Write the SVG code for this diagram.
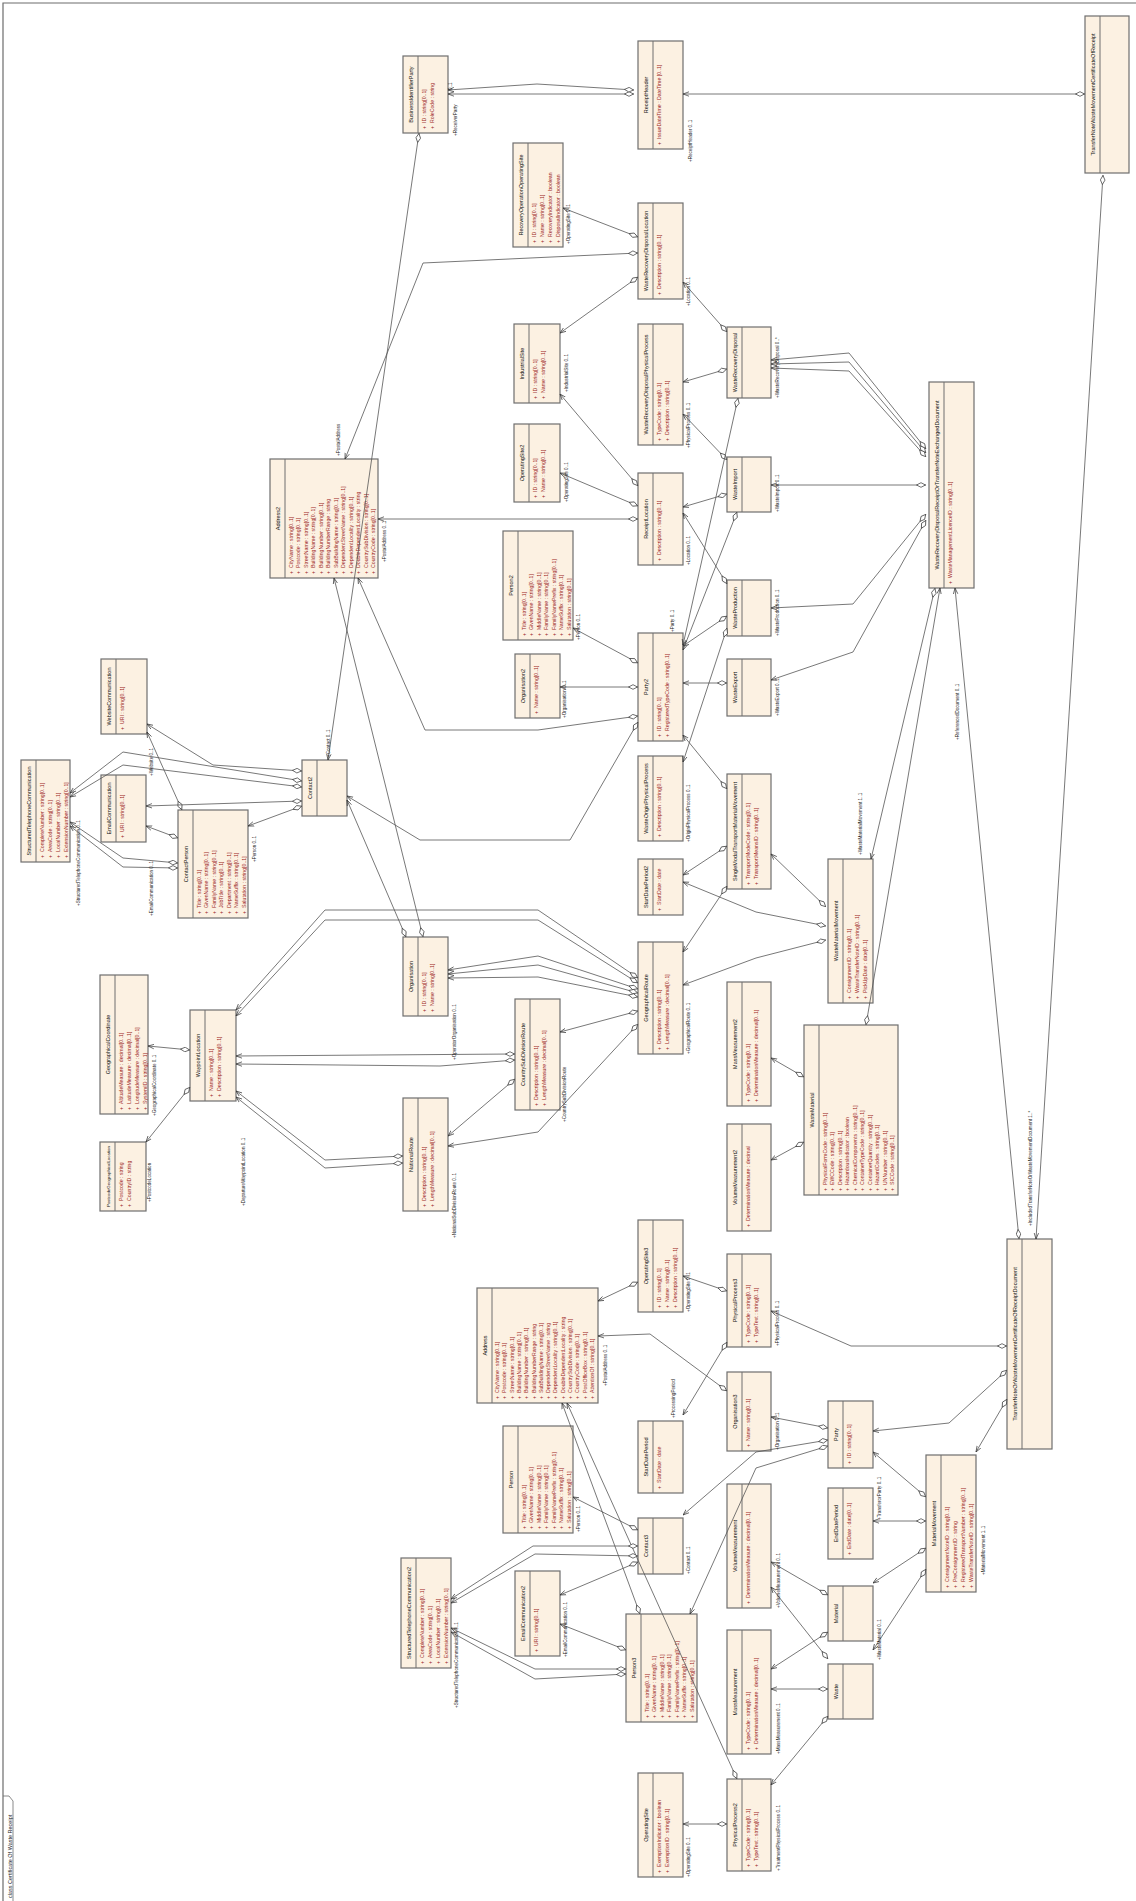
<svg xmlns="http://www.w3.org/2000/svg" width="1136" height="1901" viewBox="0 0 1136 1901">
<style>
.box{fill:#fcf1e2;stroke:#6e6e6e;stroke-width:1.2}
.sep{stroke:#6e6e6e;stroke-width:1}
.nm{font-family:"Liberation Sans",Arial,sans-serif;font-size:5.5px;fill:#111;text-anchor:middle}
.nms{font-family:"Liberation Sans",Arial,sans-serif;font-size:4.4px;fill:#111;text-anchor:middle}
.at{font-family:"Liberation Sans",Arial,sans-serif;font-size:5.2px;fill:#9b1c1c}
.lb{font-family:"Liberation Sans",Arial,sans-serif;font-size:4.6px;fill:#222}
.fr{font-family:"Liberation Sans",Arial,sans-serif;font-size:5.5px;fill:#222}
</style>
<defs>
<marker id="dia" markerUnits="userSpaceOnUse" markerWidth="10" markerHeight="6" viewBox="0 0 10 6" refX="0" refY="3" orient="auto"><path d="M0.5,3 L5,0.7 L9.5,3 L5,5.3 Z" fill="#fff" stroke="#333" stroke-width="0.7"/></marker>
<marker id="arr" markerUnits="userSpaceOnUse" markerWidth="6" markerHeight="6" viewBox="0 0 6 6" refX="6" refY="3" orient="auto"><path d="M0,0.8 L6,3 L0,5.2" fill="none" stroke="#333" stroke-width="0.7"/></marker>
</defs>
<rect width="1136" height="1901" fill="#fff"/>
<g id="frame">
<path d="M3,1901 V3 H1136" fill="none" stroke="#6d6d6d" stroke-width="1.2"/>
<path d="M3,1796 H9 L13,1801 V1901" fill="none" stroke="#6d6d6d" stroke-width="0.8"/>
<text class="fr" transform="translate(11.5,1898) rotate(-90)">class Certificate Of Waste Receipt</text>
</g>

<g id="nodes">
<g id="BusinessIdentifierParty" transform="translate(403,133) rotate(-90)"><rect class="box" width="77" height="45"/><line class="sep" x1="0" y1="15" x2="77" y2="15"/><text class="nm" x="38.5" y="10">BusinessIdentifierParty</text>
<text class="at" y="23"><tspan x="4">+</tspan><tspan x="10">ID : string[0..1]</tspan></text>
<text class="at" y="31"><tspan x="4">+</tspan><tspan x="10">RoleCode : string</tspan></text></g>

<g id="ReceiptHeader" transform="translate(638,149) rotate(-90)"><rect class="box" width="108" height="45"/><line class="sep" x1="0" y1="15" x2="108" y2="15"/><text class="nm" x="54" y="10">ReceiptHeader</text>
<text class="at" y="23"><tspan x="4">+</tspan><tspan x="10">IssueDateTime : DateTime [0..1]</tspan></text></g>

<g id="TransferNoteWasteMovementCertificateOfReceipt" transform="translate(1085,173) rotate(-90)"><rect class="box" width="157" height="44"/><line class="sep" x1="0" y1="15" x2="157" y2="15"/><text class="nm" x="78.5" y="10">TransferNoteWasteMovementCertificateOfReceipt</text></g>

<g id="RecoveryOperationOperatingSite" transform="translate(513,247) rotate(-90)"><rect class="box" width="104" height="50"/><line class="sep" x1="0" y1="15" x2="104" y2="15"/><text class="nm" x="52" y="10">RecoveryOperationOperatingSite</text>
<text class="at" y="23"><tspan x="4">+</tspan><tspan x="10">ID : string[0..1]</tspan></text>
<text class="at" y="31"><tspan x="4">+</tspan><tspan x="10">Name : string[0..1]</tspan></text>
<text class="at" y="39"><tspan x="4">+</tspan><tspan x="10">RecoveryIndicator : boolean</tspan></text>
<text class="at" y="47"><tspan x="4">+</tspan><tspan x="10">DisposalIndicator : boolean</tspan></text></g>

<g id="WasteRecoveryDisposalLocation" transform="translate(638,299) rotate(-90)"><rect class="box" width="96" height="45"/><line class="sep" x1="0" y1="15" x2="96" y2="15"/><text class="nm" x="48" y="10">WasteRecoveryDisposalLocation</text>
<text class="at" y="23"><tspan x="4">+</tspan><tspan x="10">Description : string[0..1]</tspan></text></g>

<g id="IndustrialSite" transform="translate(514,403) rotate(-90)"><rect class="box" width="79" height="46"/><line class="sep" x1="0" y1="15" x2="79" y2="15"/><text class="nm" x="39.5" y="10">IndustrialSite</text>
<text class="at" y="23"><tspan x="4">+</tspan><tspan x="10">ID : string[0..1]</tspan></text>
<text class="at" y="31"><tspan x="4">+</tspan><tspan x="10">Name : string[0..1]</tspan></text></g>

<g id="WasteRecoveryDisposalPhysicalProcess" transform="translate(638,445) rotate(-90)"><rect class="box" width="121" height="45"/><line class="sep" x1="0" y1="15" x2="121" y2="15"/><text class="nm" x="60.5" y="10">WasteRecoveryDisposalPhysicalProcess</text>
<text class="at" y="23"><tspan x="4">+</tspan><tspan x="10">TypeCode : string[0..1]</tspan></text>
<text class="at" y="31"><tspan x="4">+</tspan><tspan x="10">Description : string[0..1]</tspan></text></g>

<g id="WasteRecoveryDisposal" transform="translate(727,398) rotate(-90)"><rect class="box" width="71" height="44"/><line class="sep" x1="0" y1="15" x2="71" y2="15"/><text class="nm" x="35.5" y="10">WasteRecoveryDisposal</text></g>

<g id="OperatingSite2" transform="translate(514,502) rotate(-90)"><rect class="box" width="78" height="46"/><line class="sep" x1="0" y1="15" x2="78" y2="15"/><text class="nm" x="39" y="10">OperatingSite2</text>
<text class="at" y="23"><tspan x="4">+</tspan><tspan x="10">ID : string[0..1]</tspan></text>
<text class="at" y="31"><tspan x="4">+</tspan><tspan x="10">Name : string[0..1]</tspan></text></g>

<g id="ReceiptLocation" transform="translate(638,565) rotate(-90)"><rect class="box" width="92" height="45"/><line class="sep" x1="0" y1="15" x2="92" y2="15"/><text class="nm" x="46" y="10">ReceiptLocation</text>
<text class="at" y="23"><tspan x="4">+</tspan><tspan x="10">Description : string[0..1]</tspan></text></g>

<g id="WasteImport" transform="translate(727,512) rotate(-90)"><rect class="box" width="55" height="44"/><line class="sep" x1="0" y1="15" x2="55" y2="15"/><text class="nm" x="27.5" y="10">WasteImport</text></g>

<g id="Address2" transform="translate(270,578) rotate(-90)"><rect class="box" width="119" height="108"/><line class="sep" x1="0" y1="15" x2="119" y2="15"/><text class="nm" x="59.5" y="10">Address2</text>
<text class="at" y="22.5"><tspan x="4">+</tspan><tspan x="10">CityName : string[0..1]</tspan></text>
<text class="at" y="30"><tspan x="4">+</tspan><tspan x="10">Postcode : string[0..1]</tspan></text>
<text class="at" y="37.5"><tspan x="4">+</tspan><tspan x="10">StreetName : string[0..1]</tspan></text>
<text class="at" y="45"><tspan x="4">+</tspan><tspan x="10">BuildingName : string[0..1]</tspan></text>
<text class="at" y="52.5"><tspan x="4">+</tspan><tspan x="10">BuildingNumber : string[0..1]</tspan></text>
<text class="at" y="60"><tspan x="4">+</tspan><tspan x="10">BuildingNumberRange : string</tspan></text>
<text class="at" y="67.5"><tspan x="4">+</tspan><tspan x="10">SubBuildingName : string[0..1]</tspan></text>
<text class="at" y="75"><tspan x="4">+</tspan><tspan x="10">DependentStreetName : string[0..1]</tspan></text>
<text class="at" y="82.5"><tspan x="4">+</tspan><tspan x="10">DependentLocality : string[0..1]</tspan></text>
<text class="at" y="90"><tspan x="4">+</tspan><tspan x="10">DoubleDependentLocality : string</tspan></text>
<text class="at" y="97.5"><tspan x="4">+</tspan><tspan x="10">CountrySubDivision : string[0..1]</tspan></text>
<text class="at" y="105"><tspan x="4">+</tspan><tspan x="10">CountryCode : string[0..1]</tspan></text></g>

<g id="Person2" transform="translate(503,640) rotate(-90)"><rect class="box" width="109" height="70"/><line class="sep" x1="0" y1="15" x2="109" y2="15"/><text class="nm" x="54.5" y="10">Person2</text>
<text class="at" y="22.5"><tspan x="4">+</tspan><tspan x="10">Title : string[0..1]</tspan></text>
<text class="at" y="30"><tspan x="4">+</tspan><tspan x="10">GivenName : string[0..1]</tspan></text>
<text class="at" y="37.5"><tspan x="4">+</tspan><tspan x="10">MiddleName : string[0..1]</tspan></text>
<text class="at" y="45"><tspan x="4">+</tspan><tspan x="10">FamilyName : string[0..1]</tspan></text>
<text class="at" y="52.5"><tspan x="4">+</tspan><tspan x="10">FamilyNamePrefix : string[0..1]</tspan></text>
<text class="at" y="60"><tspan x="4">+</tspan><tspan x="10">NameSuffix : string[0..1]</tspan></text>
<text class="at" y="67.5"><tspan x="4">+</tspan><tspan x="10">Salutation : string[0..1]</tspan></text></g>

<g id="WasteProduction" transform="translate(727,636) rotate(-90)"><rect class="box" width="56" height="44"/><line class="sep" x1="0" y1="15" x2="56" y2="15"/><text class="nm" x="28" y="10">WasteProduction</text></g>

<g id="Organisation2" transform="translate(515,718) rotate(-90)"><rect class="box" width="64" height="45"/><line class="sep" x1="0" y1="15" x2="64" y2="15"/><text class="nm" x="32" y="10">Organisation2</text>
<text class="at" y="23"><tspan x="4">+</tspan><tspan x="10">Name : string[0..1]</tspan></text></g>

<g id="Party2" transform="translate(638,741) rotate(-90)"><rect class="box" width="108" height="45"/><line class="sep" x1="0" y1="15" x2="108" y2="15"/><text class="nm" x="54" y="10">Party2</text>
<text class="at" y="23"><tspan x="4">+</tspan><tspan x="10">ID : string[0..1]</tspan></text>
<text class="at" y="31"><tspan x="4">+</tspan><tspan x="10">RegisteredTypeCode : string[0..1]</tspan></text></g>

<g id="WasteExport" transform="translate(727,716) rotate(-90)"><rect class="box" width="57" height="44"/><line class="sep" x1="0" y1="15" x2="57" y2="15"/><text class="nm" x="28.5" y="10">WasteExport</text></g>

<g id="WasteOriginPhysicalProcess" transform="translate(638,841) rotate(-90)"><rect class="box" width="85" height="45"/><line class="sep" x1="0" y1="15" x2="85" y2="15"/><text class="nm" x="42.5" y="10">WasteOriginPhysicalProcess</text>
<text class="at" y="23"><tspan x="4">+</tspan><tspan x="10">Description : string[0..1]</tspan></text></g>

<g id="SingleModalTransportMaterialMovement" transform="translate(727,889) rotate(-90)"><rect class="box" width="115" height="44"/><line class="sep" x1="0" y1="15" x2="115" y2="15"/><text class="nm" x="57.5" y="10">SingleModalTransportMaterialMovement</text>
<text class="at" y="23"><tspan x="4">+</tspan><tspan x="10">TransportModeCode : string[0..1]</tspan></text>
<text class="at" y="31"><tspan x="4">+</tspan><tspan x="10">TransportMeansID : string[0..1]</tspan></text></g>

<g id="StartDatePeriod2" transform="translate(638,915) rotate(-90)"><rect class="box" width="56" height="45"/><line class="sep" x1="0" y1="15" x2="56" y2="15"/><text class="nm" x="28" y="10">StartDatePeriod2</text>
<text class="at" y="23"><tspan x="4">+</tspan><tspan x="10">StartDate : date</tspan></text></g>

<g id="WasteMaterialMovement" transform="translate(828,1003) rotate(-90)"><rect class="box" width="144" height="45"/><line class="sep" x1="0" y1="15" x2="144" y2="15"/><text class="nm" x="72" y="10">WasteMaterialMovement</text>
<text class="at" y="23"><tspan x="4">+</tspan><tspan x="10">ConsignmentID : string[0..1]</tspan></text>
<text class="at" y="31"><tspan x="4">+</tspan><tspan x="10">WasteTransferNoteID : string[0..1]</tspan></text>
<text class="at" y="39"><tspan x="4">+</tspan><tspan x="10">PickUpDate : date[0..1]</tspan></text></g>

<g id="WasteMaterial" transform="translate(804,1195) rotate(-90)"><rect class="box" width="170" height="94"/><line class="sep" x1="0" y1="15" x2="170" y2="15"/><text class="nm" x="85" y="10">WasteMaterial</text>
<text class="at" y="22.5"><tspan x="4">+</tspan><tspan x="10">PhysicalFormCode : string[0..1]</tspan></text>
<text class="at" y="30"><tspan x="4">+</tspan><tspan x="10">EWCCode : string[0..1]</tspan></text>
<text class="at" y="37.5"><tspan x="4">+</tspan><tspan x="10">Description : string[0..1]</tspan></text>
<text class="at" y="45"><tspan x="4">+</tspan><tspan x="10">HazardousIndicator : boolean</tspan></text>
<text class="at" y="52.5"><tspan x="4">+</tspan><tspan x="10">ChemicalComponents : string[0..1]</tspan></text>
<text class="at" y="60"><tspan x="4">+</tspan><tspan x="10">ContainerTypeCode : string[0..1]</tspan></text>
<text class="at" y="67.5"><tspan x="4">+</tspan><tspan x="10">ContainerQuantity : string[0..1]</tspan></text>
<text class="at" y="75"><tspan x="4">+</tspan><tspan x="10">HazardCodes : string[0..1]</tspan></text>
<text class="at" y="82.5"><tspan x="4">+</tspan><tspan x="10">UNNumber : string[0..1]</tspan></text>
<text class="at" y="90"><tspan x="4">+</tspan><tspan x="10">SICCode : string[0..1]</tspan></text></g>

<g id="Contact2" transform="translate(302,816) rotate(-90)"><rect class="box" width="56" height="45"/><line class="sep" x1="0" y1="15" x2="56" y2="15"/><text class="nm" x="28" y="10">Contact2</text></g>

<g id="StructuredTelephoneCommunication" transform="translate(21,862) rotate(-90)"><rect class="box" width="102" height="49"/><line class="sep" x1="0" y1="15" x2="102" y2="15"/><text class="nm" x="51" y="10">StructuredTelephoneCommunication</text>
<text class="at" y="23"><tspan x="4">+</tspan><tspan x="10">CompleteNumber : string[0..1]</tspan></text>
<text class="at" y="31"><tspan x="4">+</tspan><tspan x="10">AreaCode : string[0..1]</tspan></text>
<text class="at" y="39"><tspan x="4">+</tspan><tspan x="10">LocalNumber : string[0..1]</tspan></text>
<text class="at" y="47"><tspan x="4">+</tspan><tspan x="10">ExtensionNumber : string[0..1]</tspan></text></g>

<g id="WebsiteCommunication" transform="translate(101,734) rotate(-90)"><rect class="box" width="75" height="46"/><line class="sep" x1="0" y1="15" x2="75" y2="15"/><text class="nm" x="37.5" y="10">WebsiteCommunication</text>
<text class="at" y="23"><tspan x="4">+</tspan><tspan x="10">URI : string[0..1]</tspan></text></g>

<g id="EmailCommunication" transform="translate(101,842) rotate(-90)"><rect class="box" width="67" height="45"/><line class="sep" x1="0" y1="15" x2="67" y2="15"/><text class="nm" x="33.5" y="10">EmailCommunication</text>
<text class="at" y="23"><tspan x="4">+</tspan><tspan x="10">URI : string[0..1]</tspan></text></g>

<g id="ContactPerson" transform="translate(178,918) rotate(-90)"><rect class="box" width="108" height="70"/><line class="sep" x1="0" y1="15" x2="108" y2="15"/><text class="nm" x="54" y="10">ContactPerson</text>
<text class="at" y="22.5"><tspan x="4">+</tspan><tspan x="10">Title : string[0..1]</tspan></text>
<text class="at" y="30"><tspan x="4">+</tspan><tspan x="10">GivenName : string[0..1]</tspan></text>
<text class="at" y="37.5"><tspan x="4">+</tspan><tspan x="10">FamilyName : string[0..1]</tspan></text>
<text class="at" y="45"><tspan x="4">+</tspan><tspan x="10">JobTitle : string[0..1]</tspan></text>
<text class="at" y="52.5"><tspan x="4">+</tspan><tspan x="10">Department : string[0..1]</tspan></text>
<text class="at" y="60"><tspan x="4">+</tspan><tspan x="10">NameSuffix : string[0..1]</tspan></text>
<text class="at" y="67.5"><tspan x="4">+</tspan><tspan x="10">Salutation : string[0..1]</tspan></text></g>

<g id="Organisation" transform="translate(403,1016) rotate(-90)"><rect class="box" width="79" height="45"/><line class="sep" x1="0" y1="15" x2="79" y2="15"/><text class="nm" x="39.5" y="10">Organisation</text>
<text class="at" y="23"><tspan x="4">+</tspan><tspan x="10">ID : string[0..1]</tspan></text>
<text class="at" y="31"><tspan x="4">+</tspan><tspan x="10">Name : string[0..1]</tspan></text></g>

<g id="GeographicalRoute" transform="translate(638,1054) rotate(-90)"><rect class="box" width="112" height="45"/><line class="sep" x1="0" y1="15" x2="112" y2="15"/><text class="nm" x="56" y="10">GeographicalRoute</text>
<text class="at" y="23"><tspan x="4">+</tspan><tspan x="10">Description : string[0..1]</tspan></text>
<text class="at" y="31"><tspan x="4">+</tspan><tspan x="10">LengthMeasure : decimal[0..1]</tspan></text></g>

<g id="CountrySubDivisionRoute" transform="translate(515,1110) rotate(-90)"><rect class="box" width="111" height="45"/><line class="sep" x1="0" y1="15" x2="111" y2="15"/><text class="nm" x="55.5" y="10">CountrySubDivisionRoute</text>
<text class="at" y="23"><tspan x="4">+</tspan><tspan x="10">Description : string[0..1]</tspan></text>
<text class="at" y="31"><tspan x="4">+</tspan><tspan x="10">LengthMeasure : decimal[0..1]</tspan></text></g>

<g id="MassMeasurement2" transform="translate(727,1106) rotate(-90)"><rect class="box" width="124" height="44"/><line class="sep" x1="0" y1="15" x2="124" y2="15"/><text class="nm" x="62" y="10">MassMeasurement2</text>
<text class="at" y="23"><tspan x="4">+</tspan><tspan x="10">TypeCode : string[0..1]</tspan></text>
<text class="at" y="31"><tspan x="4">+</tspan><tspan x="10">DeterminationMeasure : decimal[0..1]</tspan></text></g>

<g id="NationalRoute" transform="translate(403,1211) rotate(-90)"><rect class="box" width="113" height="45"/><line class="sep" x1="0" y1="15" x2="113" y2="15"/><text class="nm" x="56.5" y="10">NationalRoute</text>
<text class="at" y="23"><tspan x="4">+</tspan><tspan x="10">Description : string[0..1]</tspan></text>
<text class="at" y="31"><tspan x="4">+</tspan><tspan x="10">LengthMeasure : decimal[0..1]</tspan></text></g>

<g id="VolumeMeasurement2" transform="translate(727,1231) rotate(-90)"><rect class="box" width="107" height="44"/><line class="sep" x1="0" y1="15" x2="107" y2="15"/><text class="nm" x="53.5" y="10">VolumeMeasurement2</text>
<text class="at" y="23"><tspan x="4">+</tspan><tspan x="10">DeterminationMeasure : decimal</tspan></text></g>

<g id="GeographicalCoordinate" transform="translate(100,1114) rotate(-90)"><rect class="box" width="139" height="48"/><line class="sep" x1="0" y1="15" x2="139" y2="15"/><text class="nm" x="69.5" y="10">GeographicalCoordinate</text>
<text class="at" y="23"><tspan x="4">+</tspan><tspan x="10">AltitudeMeasure : decimal[0..1]</tspan></text>
<text class="at" y="31"><tspan x="4">+</tspan><tspan x="10">LatitudeMeasure : decimal[0..1]</tspan></text>
<text class="at" y="39"><tspan x="4">+</tspan><tspan x="10">LongitudeMeasure : decimal[0..1]</tspan></text>
<text class="at" y="47"><tspan x="4">+</tspan><tspan x="10">SystemID : string[0..1]</tspan></text></g>

<g id="WaypointLocation" transform="translate(190,1101) rotate(-90)"><rect class="box" width="91" height="46"/><line class="sep" x1="0" y1="15" x2="91" y2="15"/><text class="nm" x="45.5" y="10">WaypointLocation</text>
<text class="at" y="23"><tspan x="4">+</tspan><tspan x="10">Name : string[0..1]</tspan></text>
<text class="at" y="31"><tspan x="4">+</tspan><tspan x="10">Description : string[0..1]</tspan></text></g>

<g id="PostcodeGeographicalLocation" transform="translate(100,1211) rotate(-90)"><rect class="box" width="69" height="46"/><line class="sep" x1="0" y1="15" x2="69" y2="15"/><text class="nms" x="34.5" y="9.5">PostcodeGeographicalLocation</text>
<text class="at" y="23"><tspan x="4">+</tspan><tspan x="10">Postcode : string</tspan></text>
<text class="at" y="31"><tspan x="4">+</tspan><tspan x="10">CountryID : string</tspan></text></g>

<g id="OperatingSite3" transform="translate(638,1312) rotate(-90)"><rect class="box" width="92" height="45"/><line class="sep" x1="0" y1="15" x2="92" y2="15"/><text class="nm" x="46" y="10">OperatingSite3</text>
<text class="at" y="23"><tspan x="4">+</tspan><tspan x="10">ID : string[0..1]</tspan></text>
<text class="at" y="31"><tspan x="4">+</tspan><tspan x="10">Name : string[0..1]</tspan></text>
<text class="at" y="39"><tspan x="4">+</tspan><tspan x="10">Description : string[0..1]</tspan></text></g>

<g id="PhysicalProcess3" transform="translate(727,1347) rotate(-90)"><rect class="box" width="93" height="44"/><line class="sep" x1="0" y1="15" x2="93" y2="15"/><text class="nm" x="46.5" y="10">PhysicalProcess3</text>
<text class="at" y="23"><tspan x="4">+</tspan><tspan x="10">TypeCode : string[0..1]</tspan></text>
<text class="at" y="31"><tspan x="4">+</tspan><tspan x="10">TypeText : string[0..1]</tspan></text></g>

<g id="Address" transform="translate(477,1403) rotate(-90)"><rect class="box" width="115" height="121"/><line class="sep" x1="0" y1="15" x2="115" y2="15"/><text class="nm" x="57.5" y="10">Address</text>
<text class="at" y="22"><tspan x="4">+</tspan><tspan x="10">CityName : string[0..1]</tspan></text>
<text class="at" y="29.3"><tspan x="4">+</tspan><tspan x="10">Postcode : string[0..1]</tspan></text>
<text class="at" y="36.6"><tspan x="4">+</tspan><tspan x="10">StreetName : string[0..1]</tspan></text>
<text class="at" y="43.9"><tspan x="4">+</tspan><tspan x="10">BuildingName : string[0..1]</tspan></text>
<text class="at" y="51.2"><tspan x="4">+</tspan><tspan x="10">BuildingNumber : string[0..1]</tspan></text>
<text class="at" y="58.5"><tspan x="4">+</tspan><tspan x="10">BuildingNumberRange : string</tspan></text>
<text class="at" y="65.8"><tspan x="4">+</tspan><tspan x="10">SubBuildingName : string[0..1]</tspan></text>
<text class="at" y="73.1"><tspan x="4">+</tspan><tspan x="10">DependentStreetName : string</tspan></text>
<text class="at" y="80.4"><tspan x="4">+</tspan><tspan x="10">DependentLocality : string[0..1]</tspan></text>
<text class="at" y="87.7"><tspan x="4">+</tspan><tspan x="10">DoubleDependentLocality : string</tspan></text>
<text class="at" y="95"><tspan x="4">+</tspan><tspan x="10">CountrySubDivision : string[0..1]</tspan></text>
<text class="at" y="102.3"><tspan x="4">+</tspan><tspan x="10">CountryCode : string[0..1]</tspan></text>
<text class="at" y="109.6"><tspan x="4">+</tspan><tspan x="10">PostOfficeBox : string[0..1]</tspan></text>
<text class="at" y="116.9"><tspan x="4">+</tspan><tspan x="10">AttentionOf : string[0..1]</tspan></text></g>

<g id="Organisation3" transform="translate(727,1451) rotate(-90)"><rect class="box" width="79" height="44"/><line class="sep" x1="0" y1="15" x2="79" y2="15"/><text class="nm" x="39.5" y="10">Organisation3</text>
<text class="at" y="23"><tspan x="4">+</tspan><tspan x="10">Name : string[0..1]</tspan></text></g>

<g id="Person" transform="translate(503,1533) rotate(-90)"><rect class="box" width="107" height="70"/><line class="sep" x1="0" y1="15" x2="107" y2="15"/><text class="nm" x="53.5" y="10">Person</text>
<text class="at" y="22.5"><tspan x="4">+</tspan><tspan x="10">Title : string[0..1]</tspan></text>
<text class="at" y="30"><tspan x="4">+</tspan><tspan x="10">GivenName : string[0..1]</tspan></text>
<text class="at" y="37.5"><tspan x="4">+</tspan><tspan x="10">MiddleName : string[0..1]</tspan></text>
<text class="at" y="45"><tspan x="4">+</tspan><tspan x="10">FamilyName : string[0..1]</tspan></text>
<text class="at" y="52.5"><tspan x="4">+</tspan><tspan x="10">FamilyNamePrefix : string[0..1]</tspan></text>
<text class="at" y="60"><tspan x="4">+</tspan><tspan x="10">NameSuffix : string[0..1]</tspan></text>
<text class="at" y="67.5"><tspan x="4">+</tspan><tspan x="10">Salutation : string[0..1]</tspan></text></g>

<g id="StartDatePeriod" transform="translate(638,1493) rotate(-90)"><rect class="box" width="72" height="45"/><line class="sep" x1="0" y1="15" x2="72" y2="15"/><text class="nm" x="36" y="10">StartDatePeriod</text>
<text class="at" y="23"><tspan x="4">+</tspan><tspan x="10">StartDate : date</tspan></text></g>

<g id="Party" transform="translate(828,1468) rotate(-90)"><rect class="box" width="67" height="45"/><line class="sep" x1="0" y1="15" x2="67" y2="15"/><text class="nm" x="33.5" y="10">Party</text>
<text class="at" y="23"><tspan x="4">+</tspan><tspan x="10">ID : string[0..1]</tspan></text></g>

<g id="VolumeMeasurement" transform="translate(727,1608) rotate(-90)"><rect class="box" width="124" height="44"/><line class="sep" x1="0" y1="15" x2="124" y2="15"/><text class="nm" x="62" y="10">VolumeMeasurement</text>
<text class="at" y="23"><tspan x="4">+</tspan><tspan x="10">DeterminationMeasure : decimal[0..1]</tspan></text></g>

<g id="EndDatePeriod" transform="translate(828,1559) rotate(-90)"><rect class="box" width="71" height="45"/><line class="sep" x1="0" y1="15" x2="71" y2="15"/><text class="nm" x="35.5" y="10">EndDatePeriod</text>
<text class="at" y="23"><tspan x="4">+</tspan><tspan x="10">EndDate : date[0..1]</tspan></text></g>

<g id="MaterialMovement" transform="translate(926,1592) rotate(-90)"><rect class="box" width="137" height="50"/><line class="sep" x1="0" y1="15" x2="137" y2="15"/><text class="nm" x="68.5" y="10">MaterialMovement</text>
<text class="at" y="23"><tspan x="4">+</tspan><tspan x="10">ConsignmentNoteID : string[0..1]</tspan></text>
<text class="at" y="31"><tspan x="4">+</tspan><tspan x="10">PreConsignmentID : string</tspan></text>
<text class="at" y="39"><tspan x="4">+</tspan><tspan x="10">RegisteredTransportNumber : string[0..1]</tspan></text>
<text class="at" y="47"><tspan x="4">+</tspan><tspan x="10">WasteTransferNoteID : string[0..1]</tspan></text></g>

<g id="Contact3" transform="translate(638,1574) rotate(-90)"><rect class="box" width="56" height="45"/><line class="sep" x1="0" y1="15" x2="56" y2="15"/><text class="nm" x="28" y="10">Contact3</text></g>

<g id="StructuredTelephoneCommunication2" transform="translate(401,1668) rotate(-90)"><rect class="box" width="110" height="50"/><line class="sep" x1="0" y1="15" x2="110" y2="15"/><text class="nm" x="55" y="10">StructuredTelephoneCommunication2</text>
<text class="at" y="23"><tspan x="4">+</tspan><tspan x="10">CompleteNumber : string[0..1]</tspan></text>
<text class="at" y="31"><tspan x="4">+</tspan><tspan x="10">AreaCode : string[0..1]</tspan></text>
<text class="at" y="39"><tspan x="4">+</tspan><tspan x="10">LocalNumber : string[0..1]</tspan></text>
<text class="at" y="47"><tspan x="4">+</tspan><tspan x="10">ExtensionNumber : string[0..1]</tspan></text></g>

<g id="EmailCommunication2" transform="translate(515,1656) rotate(-90)"><rect class="box" width="85" height="45"/><line class="sep" x1="0" y1="15" x2="85" y2="15"/><text class="nm" x="42.5" y="10">EmailCommunication2</text>
<text class="at" y="23"><tspan x="4">+</tspan><tspan x="10">URI : string[0..1]</tspan></text></g>

<g id="Material" transform="translate(828,1641) rotate(-90)"><rect class="box" width="55" height="45"/><line class="sep" x1="0" y1="15" x2="55" y2="15"/><text class="nm" x="27.5" y="10">Material</text></g>

<g id="Person3" transform="translate(626,1722) rotate(-90)"><rect class="box" width="108" height="71"/><line class="sep" x1="0" y1="15" x2="108" y2="15"/><text class="nm" x="54" y="10">Person3</text>
<text class="at" y="22.5"><tspan x="4">+</tspan><tspan x="10">Title : string[0..1]</tspan></text>
<text class="at" y="30"><tspan x="4">+</tspan><tspan x="10">GivenName : string[0..1]</tspan></text>
<text class="at" y="37.5"><tspan x="4">+</tspan><tspan x="10">MiddleName : string[0..1]</tspan></text>
<text class="at" y="45"><tspan x="4">+</tspan><tspan x="10">FamilyName : string[0..1]</tspan></text>
<text class="at" y="52.5"><tspan x="4">+</tspan><tspan x="10">FamilyNamePrefix : string[0..1]</tspan></text>
<text class="at" y="60"><tspan x="4">+</tspan><tspan x="10">NameSuffix : string[0..1]</tspan></text>
<text class="at" y="67.5"><tspan x="4">+</tspan><tspan x="10">Salutation : string[0..1]</tspan></text></g>

<g id="MassMeasurement" transform="translate(727,1754) rotate(-90)"><rect class="box" width="124" height="44"/><line class="sep" x1="0" y1="15" x2="124" y2="15"/><text class="nm" x="62" y="10">MassMeasurement</text>
<text class="at" y="23"><tspan x="4">+</tspan><tspan x="10">TypeCode : string[0..1]</tspan></text>
<text class="at" y="31"><tspan x="4">+</tspan><tspan x="10">DeterminationMeasure : decimal[0..1]</tspan></text></g>

<g id="Waste" transform="translate(828,1719) rotate(-90)"><rect class="box" width="55" height="45"/><line class="sep" x1="0" y1="15" x2="55" y2="15"/><text class="nm" x="27.5" y="10">Waste</text></g>

<g id="OperatingSite" transform="translate(638,1877) rotate(-90)"><rect class="box" width="104" height="45"/><line class="sep" x1="0" y1="15" x2="104" y2="15"/><text class="nm" x="52" y="10">OperatingSite</text>
<text class="at" y="23"><tspan x="4">+</tspan><tspan x="10">ExemptionIndicator : boolean</tspan></text>
<text class="at" y="31"><tspan x="4">+</tspan><tspan x="10">ExemptionID : string[0..1]</tspan></text></g>

<g id="PhysicalProcess2" transform="translate(727,1871) rotate(-90)"><rect class="box" width="92" height="44"/><line class="sep" x1="0" y1="15" x2="92" y2="15"/><text class="nm" x="46" y="10">PhysicalProcess2</text>
<text class="at" y="23"><tspan x="4">+</tspan><tspan x="10">TypeCode : string[0..1]</tspan></text>
<text class="at" y="31"><tspan x="4">+</tspan><tspan x="10">TypeText : string[0..1]</tspan></text></g>

<g id="WasteRecoveryDisposalReceiptDocument" transform="translate(929,588) rotate(-90)"><rect class="box" width="206" height="45"/><line class="sep" x1="0" y1="15" x2="206" y2="15"/><text class="nm" x="103" y="10">WasteRecoveryDisposalReceiptOrTransferNoteExchangedDocument</text>
<text class="at" y="23"><tspan x="4">+</tspan><tspan x="10">WasteManagementLicenceID : string[0..1]</tspan></text></g>

<g id="TransferNoteOrWasteMovementCertificateOfReceiptDocument" transform="translate(1007,1449) rotate(-90)"><rect class="box" width="210" height="45"/><line class="sep" x1="0" y1="15" x2="210" y2="15"/><text class="nm" x="105" y="10">TransferNoteOrWasteMovementCertificateOfReceiptDocument</text></g>
</g>

<g id="connectors" fill="none" stroke="#555" stroke-width="0.8" marker-start="url(#dia)" marker-end="url(#arr)">
<path d="M634,94 L448,94"/>
<path d="M634,90 L537,84 L448,90"/>
<path d="M1085,94 L683,94"/>
<path d="M638,237 L563,208"/>
<path d="M638,253 L423,263 L345,459"/>
<path d="M638,277 L560,333"/>
<path d="M727,332 L683,282"/>
<path d="M727,369 L683,382"/>
<path d="M638,486 L560,394"/>
<path d="M638,506 L560,473"/>
<path d="M638,519 L378,519"/>
<path d="M727,494 L683,507"/>
<path d="M727,460 L683,414"/>
<path d="M727,584 L683,513"/>
<path d="M738,398 L683,645"/>
<path d="M737,512 L683,650"/>
<path d="M926,449 L849,353 L771,360"/>
<path d="M926,453 L849,362 L771,364"/>
<path d="M926,457 L849,371 L771,368"/>
<path d="M926,485 L771,485"/>
<path d="M926,514 L853,604 L771,608"/>
<path d="M926,520 L853,652 L771,680"/>
<path d="M1103,175 L1036,1239"/>
<path d="M1019,1239 L955,588"/>
<path d="M935,588 L871,859"/>
<path d="M866,1025 L940,588"/>
<path d="M826,907 L771,854"/>
<path d="M826,926 L756,912 L683,882"/>
<path d="M826,940 L756,958 L683,985"/>
<path d="M804,1077 L771,1058"/>
<path d="M804,1142 L771,1160"/>
<path d="M727,789 L683,735"/>
<path d="M727,628 L683,762"/>
<path d="M727,616 L683,646"/>
<path d="M727,683 L683,683"/>
<path d="M727,846 L683,875"/>
<path d="M727,886 L683,952"/>
<path d="M638,663 L573,628"/>
<path d="M638,687 L560,687"/>
<path d="M638,716 L538,730 L425,730 L358,578"/>
<path d="M638,722 L570,840 L420,840 L347,796"/>
<path d="M419,133 L328,760"/>
<path d="M423,937 L334,578"/>
<path d="M406,937 L347,800"/>
<path d="M638,989 L538,956 L448,970"/>
<path d="M638,993 L538,965 L448,974"/>
<path d="M638,997 L538,977 L448,978"/>
<path d="M638,978 L538,910 L325,910 L236,1010"/>
<path d="M638,983 L538,920 L325,920 L236,1016"/>
<path d="M638,1011 L560,1032"/>
<path d="M638,1024 L538,1132 L448,1146"/>
<path d="M515,1054 L236,1056"/>
<path d="M515,1060 L440,1066 L236,1064"/>
<path d="M515,1079 L448,1136"/>
<path d="M403,1156 L325,1160 L236,1091"/>
<path d="M403,1163 L325,1168 L236,1097"/>
<path d="M190,1050 L148,1046"/>
<path d="M190,1087 L146,1142"/>
<path d="M302,771 L213,765 L147,724"/>
<path d="M182,810 L147,732"/>
<path d="M302,781 L123,752 L70,793"/>
<path d="M302,787 L123,765 L70,797"/>
<path d="M302,801 L146,806"/>
<path d="M302,806 L248,826"/>
<path d="M178,838 L146,826"/>
<path d="M178,863 L123,858 L70,822"/>
<path d="M178,868 L123,867 L70,826"/>
<path d="M638,1282 L598,1301"/>
<path d="M727,1391 L650,1334 L598,1336"/>
<path d="M640,1614 L562,1403"/>
<path d="M737,1779 L567,1403"/>
<path d="M638,1530 L573,1497"/>
<path d="M638,1546 L533,1546 L451,1599"/>
<path d="M638,1556 L535,1554 L451,1603"/>
<path d="M626,1669 L535,1669 L451,1628"/>
<path d="M626,1674 L535,1679 L451,1632"/>
<path d="M638,1562 L560,1595"/>
<path d="M626,1650 L560,1624"/>
<path d="M727,1342 L683,1415"/>
<path d="M727,1291 L683,1276"/>
<path d="M1007,1346 L851,1346 L771,1311"/>
<path d="M828,1428 L771,1417"/>
<path d="M828,1440 L756,1452 L683,1515"/>
<path d="M828,1446 L756,1468 L690,1614"/>
<path d="M1007,1370 L949,1423 L873,1431"/>
<path d="M926,1497 L873,1452"/>
<path d="M926,1521 L873,1521"/>
<path d="M926,1548 L873,1583"/>
<path d="M926,1569 L873,1650"/>
<path d="M828,1595 L771,1562"/>
<path d="M828,1632 L771,1669"/>
<path d="M828,1659 L771,1587"/>
<path d="M828,1689 L771,1689"/>
<path d="M828,1716 L771,1785"/>
<path d="M1007,1399 L976,1452"/>
<path d="M727,1824 L683,1824"/>
</g>

<g id="labels">
<text class="lb" transform="translate(457,136) rotate(-90)">+ReceiverParty</text>
<text class="lb" transform="translate(452,90) rotate(-90)">0..1</text>
<text class="lb" transform="translate(692,162) rotate(-90)">+ReceiptHeader 0..1</text>
<text class="lb" transform="translate(570,244) rotate(-90)">+OperatingSite 0..1</text>
<text class="lb" transform="translate(690,306) rotate(-90)">+Location 0..1</text>
<text class="lb" transform="translate(568,392) rotate(-90)">+IndustrialSite 0..1</text>
<text class="lb" transform="translate(690,448) rotate(-90)">+PhysicalProcess 0..1</text>
<text class="lb" transform="translate(568,502) rotate(-90)">+OperatingSite 0..1</text>
<text class="lb" transform="translate(340,456) rotate(-90)">+PostalAddress</text>
<text class="lb" transform="translate(386,562) rotate(-90)">+PostalAddress 0..1</text>
<text class="lb" transform="translate(690,565) rotate(-90)">+Location 0..1</text>
<text class="lb" transform="translate(674,632) rotate(-90)">+Party 0..1</text>
<text class="lb" transform="translate(779,398) rotate(-90)">+WasteRecoveryDisposal 0..*</text>
<text class="lb" transform="translate(779,512) rotate(-90)">+WasteImport 0..1</text>
<text class="lb" transform="translate(779,636) rotate(-90)">+WasteProduction 0..1</text>
<text class="lb" transform="translate(779,716) rotate(-90)">+WasteExport 0..1</text>
<text class="lb" transform="translate(959,740) rotate(-90)">+ReferencedDocument 0..1</text>
<text class="lb" transform="translate(1032,1226) rotate(-90)">+IncludedTransferNoteOrWasteMovementDocument 1..*</text>
<text class="lb" transform="translate(862,855) rotate(-90)">+WasteMaterialMovement 1..1</text>
<text class="lb" transform="translate(690,842) rotate(-90)">+OriginPhysicalProcess 0..1</text>
<text class="lb" transform="translate(566,718) rotate(-90)">+Organisation 0..1</text>
<text class="lb" transform="translate(580,640) rotate(-90)">+Person 0..1</text>
<text class="lb" transform="translate(690,1054) rotate(-90)">+GeographicalRoute 0..1</text>
<text class="lb" transform="translate(456,1060) rotate(-90)">+OperatorOrganisation 0..1</text>
<text class="lb" transform="translate(456,1238) rotate(-90)">+NationalSubDivisionRoute 0..1</text>
<text class="lb" transform="translate(566,1122) rotate(-90)">+CountrySubDivisionRoute</text>
<text class="lb" transform="translate(245,1206) rotate(-90)">+DepartureWaypointLocation 0..1</text>
<text class="lb" transform="translate(156,1116) rotate(-90)">+GeographicalCoordinate 0..1</text>
<text class="lb" transform="translate(151,1202) rotate(-90)">+PostcodeLocation</text>
<text class="lb" transform="translate(80,906) rotate(-90)">+StructuredTelephoneCommunication 0..1</text>
<text class="lb" transform="translate(153,776) rotate(-90)">+Website 0..1</text>
<text class="lb" transform="translate(153,916) rotate(-90)">+EmailCommunication 0..1</text>
<text class="lb" transform="translate(256,862) rotate(-90)">+Person 0..1</text>
<text class="lb" transform="translate(330,757) rotate(-90)">+Contact 0..1</text>
<text class="lb" transform="translate(607,1386) rotate(-90)">+PostalAddress 0..1</text>
<text class="lb" transform="translate(690,1312) rotate(-90)">+OperatingSite 0..1</text>
<text class="lb" transform="translate(779,1346) rotate(-90)">+PhysicalProcess 0..1</text>
<text class="lb" transform="translate(675,1418) rotate(-90)">+ProcessingPeriod</text>
<text class="lb" transform="translate(779,1450) rotate(-90)">+Organisation 0..1</text>
<text class="lb" transform="translate(580,1532) rotate(-90)">+Person 0..1</text>
<text class="lb" transform="translate(690,1574) rotate(-90)">+Contact 0..1</text>
<text class="lb" transform="translate(567,1657) rotate(-90)">+EmailCommunication 0..1</text>
<text class="lb" transform="translate(458,1708) rotate(-90)">+StructuredTelephoneCommunication 0..1</text>
<text class="lb" transform="translate(690,1877) rotate(-90)">+OperatingSite 0..1</text>
<text class="lb" transform="translate(780,1871) rotate(-90)">+TreatmentPhysicalProcess 0..1</text>
<text class="lb" transform="translate(780,1754) rotate(-90)">+MassMeasurement 0..1</text>
<text class="lb" transform="translate(780,1608) rotate(-90)">+VolumeMeasurement 0..1</text>
<text class="lb" transform="translate(881,1660) rotate(-90)">+WasteMaterial 0..1</text>
<text class="lb" transform="translate(881,1520) rotate(-90)">+TransferorParty 0..1</text>
<text class="lb" transform="translate(985,1575) rotate(-90)">+MaterialMovement 1..1</text>
</g>
</svg>
